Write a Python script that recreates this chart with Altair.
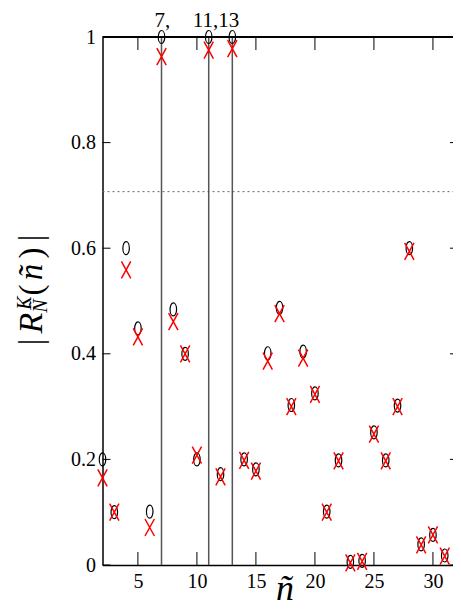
import altair as alt
import pandas as pd

# ---- data ----
n_vals = list(range(2, 32))
circle_vals = [0.200, 0.100, 0.600, 0.448, 0.101, 1.000, 0.484, 0.400, 0.200, 1.000,
               0.172, 1.000, 0.200, 0.181, 0.401, 0.487, 0.303, 0.404, 0.325, 0.101,
               0.198, 0.006, 0.008, 0.251, 0.198, 0.302, 0.600, 0.039, 0.057, 0.018]
cross_vals = [0.165, 0.100, 0.559, 0.432, 0.071, 0.963, 0.461, 0.400, 0.208, 0.975,
              0.167, 0.978, 0.198, 0.178, 0.386, 0.476, 0.300, 0.392, 0.323, 0.100,
              0.197, 0.004, 0.007, 0.248, 0.197, 0.300, 0.594, 0.038, 0.057, 0.017]
vline_n = [7, 11, 13]
hline_val = [0.7071]
top_label_text = ["7,", "11,13"]
top_label_n = [7, 11]
top_label_dx = [-7, -16]
x_ticks = [5, 10, 15, 20, 25, 30]
y_ticks = [0, 0.2, 0.4, 0.6, 0.8, 1.0]

W = 350.5
H = 528
XDOM = [2, 31.7]
SERIF = "Liberation Serif, Times New Roman, serif"

df = pd.DataFrame({"n": n_vals, "c": circle_vals, "x": cross_vals})
xs = alt.Scale(domain=XDOM, nice=False, zero=False)
ys = alt.Scale(domain=[0, 1], nice=False)

xaxis = alt.Axis(values=x_ticks, ticks=False, domain=True, domainColor="black",
                 domainWidth=1.5, grid=False,
                 labelFont=SERIF, labelFontSize=20, labelColor="black",
                 labelPadding=6, title=None)
yaxis = alt.Axis(values=y_ticks, format="~g", ticks=False, domain=True, domainColor="black",
                 domainWidth=1.5, grid=False,
                 labelFont=SERIF, labelFontSize=20, labelColor="black",
                 labelPadding=7, title=None)

ELLIPSE = "M0,-1A0.5,1 0 1,1 0,1A0.5,1 0 1,1 0,-1Z"
XSHAPE = "M-0.55,-1L0.55,1M-0.55,1L0.55,-1"

vl = alt.Chart(pd.DataFrame({"n": vline_n})).mark_rule(
    color="#555555", strokeWidth=1.5).encode(
    x=alt.X("n:Q", scale=xs, axis=xaxis), y=alt.value(0), y2=alt.value(H))

hl = alt.Chart(pd.DataFrame({"v": hline_val})).mark_rule(
    color="#666666", strokeWidth=1, strokeDash=[2, 3]).encode(
    y=alt.Y("v:Q", scale=ys, axis=yaxis), x=alt.value(0), x2=alt.value(W))

top_line = alt.Chart(pd.DataFrame({"v": [1.0]})).mark_rule(
    color="black", strokeWidth=1.8).encode(
    y=alt.Y("v:Q", scale=ys), x=alt.value(0), x2=alt.value(W))

circles = alt.Chart(df).mark_point(
    shape=ELLIPSE, filled=False, color="black", size=169, strokeWidth=1.2, opacity=1).encode(
    x=alt.X("n:Q", scale=xs, axis=xaxis), y=alt.Y("c:Q", scale=ys, axis=yaxis))

crosses = alt.Chart(df).mark_point(
    shape=XSHAPE, filled=False, color="#ff0000", size=289, strokeWidth=1.5, opacity=1).encode(
    x=alt.X("n:Q", scale=xs), y=alt.Y("x:Q", scale=ys))

ytk = pd.DataFrame({"v": y_ticks})
xtk = pd.DataFrame({"v": x_ticks})
tk_l = alt.Chart(ytk).mark_rule(color="black", strokeWidth=1).encode(
    y=alt.Y("v:Q", scale=ys), x=alt.value(0), x2=alt.value(8))
tk_r = alt.Chart(ytk).mark_rule(color="black", strokeWidth=1).encode(
    y=alt.Y("v:Q", scale=ys), x=alt.value(W - 3), x2=alt.value(W))
tk_b = alt.Chart(xtk).mark_rule(color="black", strokeWidth=1).encode(
    x=alt.X("v:Q", scale=xs), y=alt.value(H), y2=alt.value(H - 13))
tk_t = alt.Chart(xtk).mark_rule(color="black", strokeWidth=1).encode(
    x=alt.X("v:Q", scale=xs), y=alt.value(0), y2=alt.value(13))

top_layers = []
for t, nn, d in zip(top_label_text, top_label_n, top_label_dx):
    top_layers.append(
        alt.Chart(pd.DataFrame({"n": [nn], "t": [t]})).mark_text(
            font=SERIF, fontSize=21, align="left", baseline="alphabetic", color="black", dx=d).encode(
            x=alt.X("n:Q", scale=xs), y=alt.value(-10), text="t:N"))


def txt(s, px, py, size, italic=False, angle=270):
    # px, py are page coordinates of the glyph centre (baseline line for x)
    return alt.Chart(pd.DataFrame({"t": [s]})).mark_text(
        font=SERIF, fontSize=size, fontStyle="italic" if italic else "normal",
        align="center", baseline="alphabetic", angle=angle, color="black").encode(
        x=alt.value(px - 102.5), y=alt.value(py - 37), text="t:N")


ylab = [
    txt("|", 42, 342, 33),
    txt("R", 42, 323, 34, italic=True),
    txt("K", 31, 303, 20, italic=True),
    txt("Ñ", 47, 306, 20, italic=True),
    txt("(", 42, 290, 33),
    txt("ñ", 42, 272, 33, italic=True),
    txt(")", 42, 253, 33),
    txt("|", 42, 238, 33),
]
xlab = txt("ñ", 285, 600, 36, italic=True, angle=0)

chart = alt.layer(
    hl, vl, top_line, tk_l, tk_r, tk_b, tk_t, circles, crosses, *top_layers, *ylab, xlab
).properties(
    width=W, height=H,
    padding={"left": 94.5, "top": 29, "right": 0, "bottom": 43},
    autosize=alt.AutoSizeParams(type="none"),
).configure_view(strokeWidth=0)

chart.save("out.html", embed_options={"renderer": "svg", "actions": False})
